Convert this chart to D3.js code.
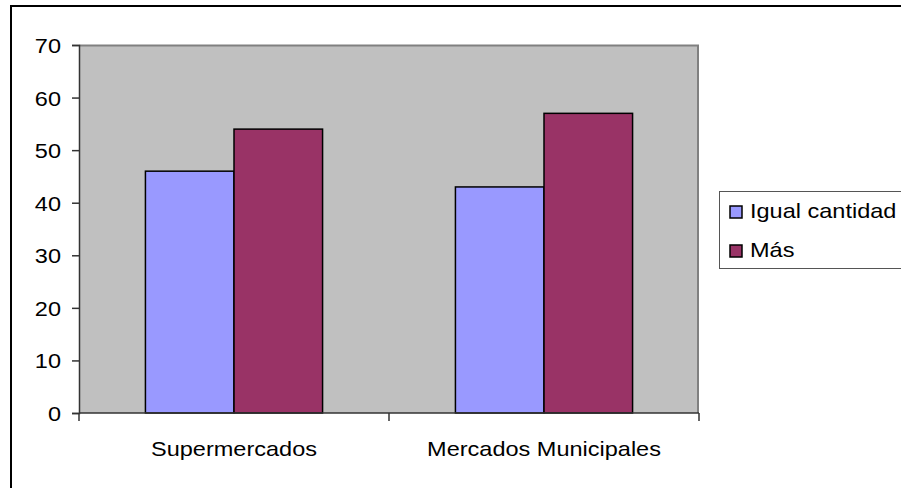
<!DOCTYPE html>
<html>
  <head>
    <meta charset="utf-8">
    <script src="https://d3js.org/d3.v7.min.js"></script>
    <title>Supermercados vs Mercados</title>
    <style type="text/css">
body {
  margin: 0;
  background-color: #FFFFFF;
}
svg text {
  font-family: 'Liberation Sans', Arial, sans-serif;
  font-size: 21px;
  fill: #000;
}
    </style>
  </head>
  <body>
<svg></svg>
<script type="text/javascript">
  const categories = ["Supermercados", "Mercados Municipales"];
  const series = ["Igual cantidad", "Más"];
  const igualCantidad = [46, 43];
  const mas = [54, 57];
  const colors = ["#9999FF", "#993366"];
  const yTicks = [0, 10, 20, 30, 40, 50, 60, 70];

  const width = 901, height = 488;
  const plot = {left: 79, top: 45, right: 699, bottom: 413};
  const sx = 1.12; // text in the picture is a bit wide

  const svg = d3.select("svg")
      .attr("width", width)
      .attr("height", height);

  // outer frame, runs off the right and bottom edge
  svg.append("rect")
      .attr("x", 11).attr("y", 6)
      .attr("width", 920).attr("height", 520)
      .attr("fill", "none")
      .attr("stroke", "#000")
      .attr("stroke-width", 2);

  const x0 = d3.scaleBand()
      .domain(categories)
      .range([plot.left, plot.right]);

  const x1 = d3.scaleBand()
      .domain(series)
      .range([0, x0.bandwidth()])
      .paddingInner(0)
      .paddingOuter(0.75);

  const y = d3.scaleLinear()
      .domain([0, 70])
      .range([plot.bottom, plot.top]);

  // plot area
  svg.append("rect")
      .attr("x", plot.left).attr("y", plot.top)
      .attr("width", plot.right - plot.left)
      .attr("height", plot.bottom - plot.top)
      .attr("fill", "#C0C0C0");
  svg.append("path")
      .attr("d", "M" + plot.left + "," + (plot.top + 0.5) + "H" + (plot.right - 1) + "V" + plot.bottom)
      .attr("fill", "none")
      .attr("stroke", "#808080")
      .attr("stroke-width", 2);

  const table = categories.map((c, i) => ({cat: c, values: [igualCantidad[i], mas[i]]}));

  const groups = svg.selectAll(".grp")
    .data(table)
    .enter().append("g")
      .attr("class", "grp")
      .attr("transform", d => "translate(" + x0(d.cat) + ",0)");

  groups.selectAll("rect")
    .data(d => d.values.map((v, j) => ({s: series[j], v: v, j: j})))
    .enter().append("rect")
      .attr("x", d => x1(d.s))
      .attr("y", d => y(d.v))
      .attr("width", x1.bandwidth())
      .attr("height", d => y(0) - y(d.v))
      .attr("fill", d => colors[d.j])
      .attr("stroke", "#000")
      .attr("stroke-width", 1.5);

  // y axis
  const yAxis = svg.append("g")
      .attr("transform", "translate(" + plot.left + ",0)")
      .call(d3.axisLeft(y).tickValues(yTicks).tickSize(7).tickPadding(11));
  yAxis.select(".domain").attr("stroke", "#333").attr("stroke-width", 1.5);
  yAxis.selectAll(".tick line").attr("stroke", "#333").attr("stroke-width", 1.5);
  yAxis.selectAll("text")
      .attr("font-size", null).attr("font-family", null)
      .attr("transform", "scale(" + sx + ",1)")
      .attr("x", -18 / sx)
      .attr("dy", "0.36em");

  // x axis
  const xAxis = svg.append("g")
      .attr("transform", "translate(0," + plot.bottom + ")");
  xAxis.append("line")
      .attr("x1", plot.left).attr("x2", plot.right)
      .attr("stroke", "#333").attr("stroke-width", 1.5);
  const edges = [x0(categories[0])].concat(categories.map(c => x0(c) + x0.bandwidth()));
  xAxis.selectAll(".xt")
    .data(edges)
    .enter().append("line")
      .attr("class", "xt")
      .attr("x1", d => d).attr("x2", d => d)
      .attr("y1", 0).attr("y2", 8)
      .attr("stroke", "#333").attr("stroke-width", 1.5);
  xAxis.selectAll(".xl")
    .data(categories)
    .enter().append("text")
      .attr("class", "xl")
      .attr("text-anchor", "middle")
      .attr("transform", d => "translate(" + (x0(d) + x0.bandwidth() / 2) + ",43) scale(" + sx + ",1)")
      .text(d => d);

  // legend
  const legend = svg.append("g").attr("transform", "translate(719,191)");
  legend.append("rect")
      .attr("x", 0.5).attr("y", 0.5)
      .attr("width", 200).attr("height", 77)
      .attr("fill", "#FFF")
      .attr("stroke", "#555")
      .attr("stroke-width", 1);
  const item = legend.selectAll(".item")
    .data(series)
    .enter().append("g")
      .attr("class", "item")
      .attr("transform", (d, i) => "translate(0," + (i * 39) + ")");
  item.append("rect")
      .attr("x", 11).attr("y", 15)
      .attr("width", 12).attr("height", 12)
      .attr("fill", (d, i) => colors[i])
      .attr("stroke", "#000")
      .attr("stroke-width", 1.5);
  item.append("text")
      .attr("transform", "translate(31,26.5) scale(" + sx + ",1)")
      .text(d => d);
</script>
  </body>
</html>
